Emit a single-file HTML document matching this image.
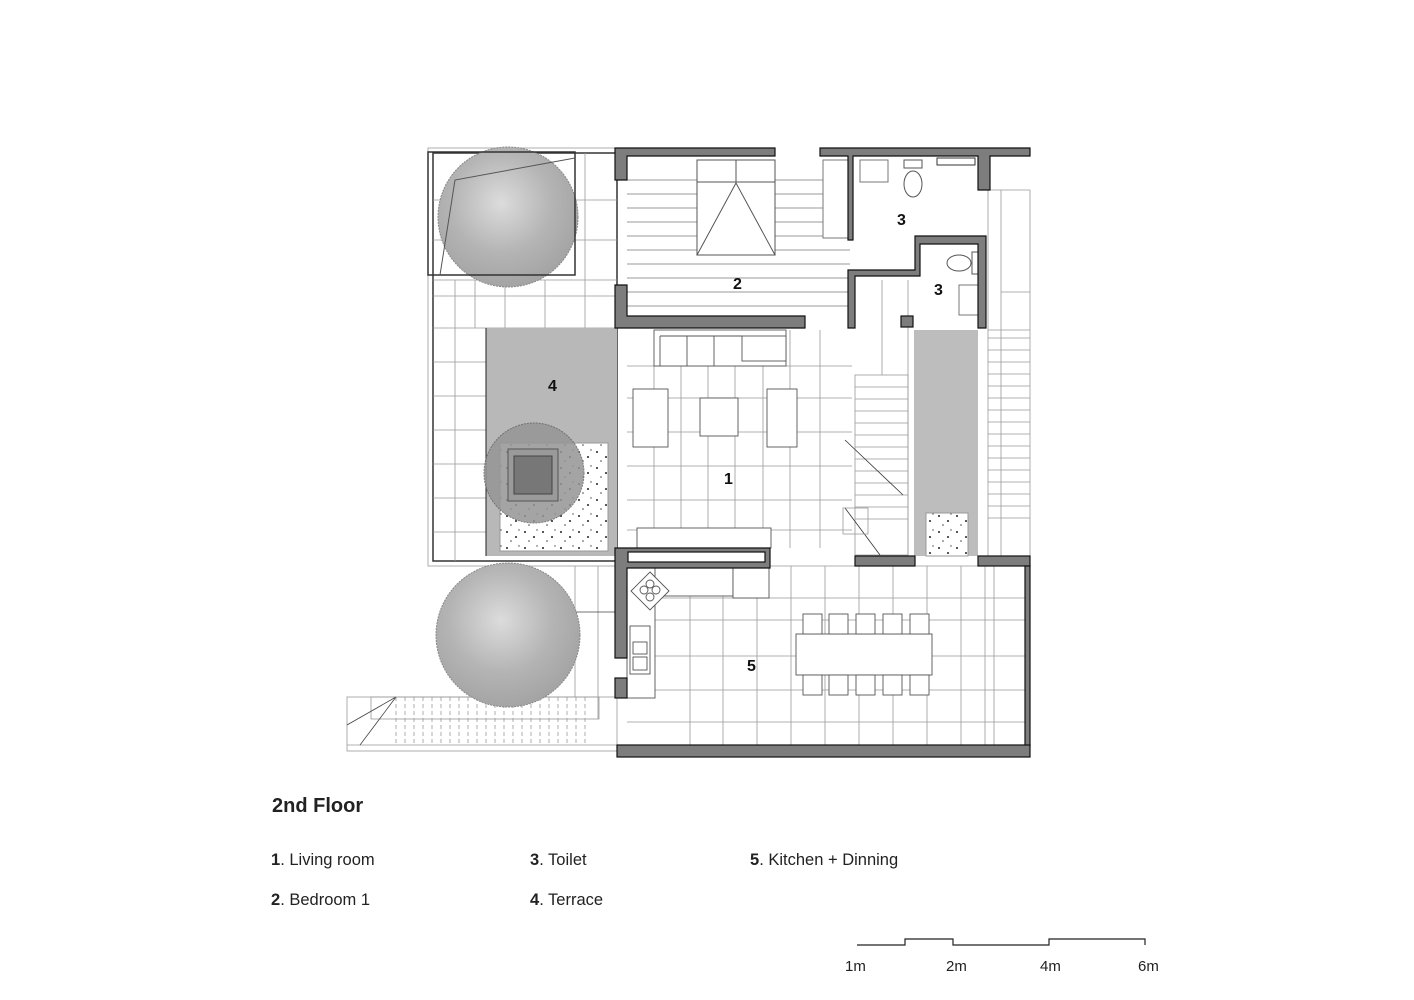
<!DOCTYPE html>
<html><head><meta charset="utf-8"><style>
html,body{margin:0;padding:0;background:#fff}
svg{display:block}
text{font-family:"Liberation Sans",Arial,sans-serif}
</style></head><body>
<svg width="1414" height="1000" viewBox="0 0 1414 1000" xmlns="http://www.w3.org/2000/svg">
<defs>
<radialGradient id="tree" cx="45%" cy="40%" r="60%">
<stop offset="0" stop-color="#dcdcdc"/><stop offset="0.6" stop-color="#b4b4b4"/><stop offset="1" stop-color="#a4a4a4"/>
</radialGradient>
<pattern id="grav" width="18" height="16" patternUnits="userSpaceOnUse">
<rect width="18" height="16" fill="#fff"/>
<circle cx="3" cy="4" r="1" fill="#222"/><circle cx="12" cy="9" r="1" fill="#222"/><circle cx="7" cy="13" r="0.8" fill="#444"/><circle cx="15" cy="2" r="0.7" fill="#444"/>
</pattern>
</defs>
<g stroke="#999" stroke-width="0.8" fill="none">
<rect x="428" y="148" width="189" height="418"/>
<rect x="433" y="153" width="184" height="408" stroke="#333" stroke-width="1.5"/>
<line x1="433" y1="280" x2="617" y2="280"/>
<line x1="433" y1="296" x2="617" y2="296"/>
<line x1="433" y1="328" x2="617" y2="328"/>
<line x1="433" y1="362" x2="486" y2="362"/>
<line x1="433" y1="396" x2="486" y2="396"/>
<line x1="433" y1="430" x2="486" y2="430"/>
<line x1="433" y1="464" x2="486" y2="464"/>
<line x1="433" y1="498" x2="486" y2="498"/>
<line x1="433" y1="532" x2="486" y2="532"/>
<line x1="455" y1="280" x2="455" y2="561"/>
<line x1="475" y1="280" x2="475" y2="328"/>
<line x1="505" y1="280" x2="505" y2="328"/>
<line x1="545" y1="280" x2="545" y2="328"/>
<line x1="585" y1="153" x2="585" y2="328"/>
<line x1="433" y1="200" x2="617" y2="200"/>
<line x1="433" y1="240" x2="617" y2="240"/>
<line x1="627" y1="366" x2="852" y2="366"/>
<line x1="627" y1="398" x2="852" y2="398"/>
<line x1="627" y1="432" x2="852" y2="432"/>
<line x1="627" y1="466" x2="852" y2="466"/>
<line x1="627" y1="500" x2="852" y2="500"/>
<line x1="627" y1="530" x2="852" y2="530"/>
<line x1="654" y1="366" x2="654" y2="548"/>
<line x1="681" y1="366" x2="681" y2="548"/>
<line x1="708" y1="366" x2="708" y2="548"/>
<line x1="735" y1="366" x2="735" y2="548"/>
<line x1="763" y1="366" x2="763" y2="548"/>
<line x1="790" y1="330" x2="790" y2="548"/>
<line x1="820" y1="330" x2="820" y2="548"/>
<line x1="988" y1="190" x2="1030" y2="190"/>
<line x1="1030" y1="190" x2="1030" y2="556"/>
<line x1="988" y1="190" x2="988" y2="556"/>
<line x1="1001" y1="190" x2="1001" y2="556"/>
<line x1="1001" y1="292" x2="1030" y2="292"/>
<line x1="988" y1="330" x2="1030" y2="330"/>
<line x1="988" y1="338" x2="1030" y2="338"/>
<line x1="988" y1="350" x2="1030" y2="350"/>
<line x1="988" y1="362" x2="1030" y2="362"/>
<line x1="988" y1="374" x2="1030" y2="374"/>
<line x1="988" y1="386" x2="1030" y2="386"/>
<line x1="988" y1="398" x2="1030" y2="398"/>
<line x1="988" y1="410" x2="1030" y2="410"/>
<line x1="988" y1="422" x2="1030" y2="422"/>
<line x1="988" y1="434" x2="1030" y2="434"/>
<line x1="988" y1="446" x2="1030" y2="446"/>
<line x1="988" y1="458" x2="1030" y2="458"/>
<line x1="988" y1="470" x2="1030" y2="470"/>
<line x1="988" y1="482" x2="1030" y2="482"/>
<line x1="988" y1="494" x2="1030" y2="494"/>
<line x1="988" y1="506" x2="1030" y2="506"/>
<line x1="988" y1="518" x2="1030" y2="518"/>
<rect x="855" y="375" width="53" height="180"/>
<line x1="855" y1="387" x2="908" y2="387"/>
<line x1="855" y1="399" x2="908" y2="399"/>
<line x1="855" y1="411" x2="908" y2="411"/>
<line x1="855" y1="423" x2="908" y2="423"/>
<line x1="855" y1="435" x2="908" y2="435"/>
<line x1="855" y1="447" x2="908" y2="447"/>
<line x1="855" y1="459" x2="908" y2="459"/>
<line x1="855" y1="471" x2="908" y2="471"/>
<line x1="855" y1="483" x2="908" y2="483"/>
<line x1="855" y1="495" x2="908" y2="495"/>
<line x1="855" y1="507" x2="908" y2="507"/>
<line x1="855" y1="519" x2="908" y2="519"/>
<line x1="882" y1="280" x2="882" y2="375"/>
<line x1="908" y1="280" x2="908" y2="555"/>
<line x1="845" y1="440" x2="903" y2="495" stroke="#333"/>
<line x1="845" y1="508" x2="880" y2="555" stroke="#333"/>
<rect x="843" y="508" width="25" height="26"/>
<line x1="655" y1="598" x2="1026" y2="598"/>
<line x1="655" y1="620" x2="1026" y2="620"/>
<line x1="655" y1="656" x2="1026" y2="656"/>
<line x1="655" y1="690" x2="1026" y2="690"/>
<line x1="627" y1="722" x2="1026" y2="722"/>
<line x1="627" y1="566" x2="1026" y2="566"/>
<line x1="690" y1="596" x2="690" y2="745"/>
<line x1="723" y1="596" x2="723" y2="745"/>
<line x1="757" y1="596" x2="757" y2="745"/>
<line x1="791" y1="566" x2="791" y2="745"/>
<line x1="825" y1="566" x2="825" y2="745"/>
<line x1="859" y1="566" x2="859" y2="745"/>
<line x1="893" y1="566" x2="893" y2="745"/>
<line x1="927" y1="566" x2="927" y2="745"/>
<line x1="961" y1="566" x2="961" y2="745"/>
<line x1="994" y1="566" x2="994" y2="745"/>
<line x1="985" y1="566" x2="985" y2="745"/>
<rect x="347" y="697" width="270" height="54"/>
<line x1="347" y1="745" x2="617" y2="745"/>
<rect x="371" y="697" width="228" height="22"/>
<line x1="347" y1="725" x2="396" y2="697" stroke="#444"/>
<line x1="360" y1="745" x2="396" y2="697" stroke="#444"/>
<line x1="598" y1="566" x2="598" y2="719"/>
<line x1="575" y1="566" x2="575" y2="697"/>
<line x1="575" y1="612" x2="617" y2="612" stroke="#444"/>
</g>
<g stroke="#999" stroke-width="0.8" stroke-dasharray="4,3">
<line x1="396" y1="697" x2="396" y2="745"/><line x1="405" y1="697" x2="405" y2="745"/>
<line x1="414" y1="697" x2="414" y2="745"/><line x1="423" y1="697" x2="423" y2="745"/>
<line x1="432" y1="697" x2="432" y2="745"/><line x1="441" y1="697" x2="441" y2="745"/>
<line x1="450" y1="697" x2="450" y2="745"/><line x1="459" y1="697" x2="459" y2="745"/>
<line x1="468" y1="697" x2="468" y2="745"/><line x1="477" y1="697" x2="477" y2="745"/>
<line x1="486" y1="697" x2="486" y2="745"/><line x1="495" y1="697" x2="495" y2="745"/>
<line x1="504" y1="697" x2="504" y2="745"/><line x1="513" y1="697" x2="513" y2="745"/>
<line x1="522" y1="697" x2="522" y2="745"/><line x1="531" y1="697" x2="531" y2="745"/>
<line x1="540" y1="697" x2="540" y2="745"/><line x1="549" y1="697" x2="549" y2="745"/>
<line x1="558" y1="697" x2="558" y2="745"/><line x1="567" y1="697" x2="567" y2="745"/>
<line x1="576" y1="697" x2="576" y2="745"/><line x1="585" y1="697" x2="585" y2="745"/>
</g>
<rect x="486" y="328" width="131" height="228" fill="#b8b8b8"/>
<line x1="486" y1="328" x2="486" y2="556" stroke="#222" stroke-width="1"/>
<rect x="500" y="443" width="108" height="108" fill="url(#grav)" stroke="#999"/>
<rect x="914" y="330" width="64" height="226" fill="#bdbdbd"/>
<rect x="926" y="513" width="42" height="43" fill="url(#grav)" stroke="#999"/>
<circle cx="508" cy="217" r="70" fill="url(#tree)" stroke="#888" stroke-dasharray="2,1"/>
<rect x="428" y="152" width="147" height="123" fill="none" stroke="#333" stroke-width="1.5"/>
<polyline points="440,275 455,180 575,158" fill="none" stroke="#555"/>
<circle cx="534" cy="473" r="50" fill="#959595" stroke="#666" stroke-dasharray="2,1" opacity="0.85"/>
<rect x="508" y="449" width="50" height="52" fill="#9a9a9a" stroke="#555"/>
<rect x="514" y="456" width="38" height="38" fill="#777" stroke="#444"/>
<circle cx="508" cy="635" r="72" fill="url(#tree)" stroke="#888" stroke-dasharray="2,1"/>
<g stroke="#777" stroke-width="0.8">
<line x1="627" y1="180" x2="850" y2="180"/><line x1="627" y1="194" x2="850" y2="194"/>
<line x1="627" y1="208" x2="850" y2="208"/><line x1="627" y1="222" x2="850" y2="222"/>
<line x1="627" y1="236" x2="850" y2="236"/><line x1="627" y1="250" x2="850" y2="250"/>
<line x1="627" y1="264" x2="850" y2="264"/><line x1="627" y1="278" x2="850" y2="278"/>
<line x1="627" y1="292" x2="850" y2="292"/><line x1="627" y1="306" x2="850" y2="306"/>
</g>
<rect x="697" y="160" width="78" height="95" fill="#fff" stroke="#555"/>
<line x1="697" y1="182" x2="775" y2="182" stroke="#555"/>
<line x1="736" y1="160" x2="736" y2="182" stroke="#555"/>
<polygon points="736,183 697,255 775,255" fill="none" stroke="#555"/>
<rect x="823" y="160" width="25" height="78" fill="#fff" stroke="#777"/>
<rect x="853" y="156" width="123" height="120" fill="#fff"/>
<rect x="913" y="240" width="72" height="78" fill="#fff"/>
<rect x="860" y="160" width="28" height="22" fill="none" stroke="#777"/>
<ellipse cx="913" cy="184" rx="9" ry="13" fill="#fff" stroke="#555"/>
<rect x="904" y="160" width="18" height="8" fill="#fff" stroke="#555"/>
<rect x="937" y="158" width="38" height="7" fill="#fff" stroke="#333"/>
<ellipse cx="959" cy="263" rx="12" ry="8" fill="#fff" stroke="#555"/>
<rect x="972" y="252" width="8" height="22" fill="#fff" stroke="#555"/>
<rect x="959" y="285" width="20" height="30" fill="#fff" stroke="#777"/>
<g fill="#fff" stroke="#555" stroke-width="0.9">
<rect x="654" y="330" width="132" height="36"/>
<line x1="660" y1="336" x2="660" y2="366"/>
<line x1="687" y1="336" x2="687" y2="366"/>
<line x1="714" y1="336" x2="714" y2="366"/>
<rect x="742" y="336" width="44" height="25"/>
<line x1="660" y1="336" x2="742" y2="336"/>
<rect x="633" y="389" width="35" height="58"/>
<rect x="700" y="398" width="38" height="38"/>
<rect x="767" y="389" width="30" height="58"/>
<rect x="637" y="528" width="134" height="20"/>
<rect x="627" y="566" width="106" height="30"/>
<rect x="733" y="566" width="36" height="32"/>
<rect x="627" y="566" width="28" height="132"/>
<polygon points="650,572 669,591 650,610 631,591"/>
<circle cx="644" cy="590" r="4"/><circle cx="656" cy="590" r="4"/><circle cx="650" cy="584" r="4"/><circle cx="650" cy="597" r="4"/>
<rect x="630" y="626" width="20" height="48"/>
<rect x="633" y="642" width="14" height="12"/><rect x="633" y="657" width="14" height="13"/>
<rect x="796" y="634" width="136" height="41"/>
<rect x="803" y="614" width="19" height="20"/><rect x="829" y="614" width="19" height="20"/>
<rect x="856" y="614" width="19" height="20"/><rect x="883" y="614" width="19" height="20"/>
<rect x="910" y="614" width="19" height="20"/>
<rect x="803" y="675" width="19" height="20"/><rect x="829" y="675" width="19" height="20"/>
<rect x="856" y="675" width="19" height="20"/><rect x="883" y="675" width="19" height="20"/>
<rect x="910" y="675" width="19" height="20"/>
</g>
<g fill="#7d7d7d" stroke="#111" stroke-width="1.2">
<path d="M615,148 H775 V156 H627 V180 H615 Z"/>
<path d="M615,285 H627 V316 H805 V328 H615 Z"/>
<path d="M820,148 H1030 V156 H990 V190 H978 V156 H853 V240 H848 V156 H820 Z"/>
<path d="M848,270 H915 V236 H986 V328 H978 V244 H920 V276 H855 V328 H848 Z"/>
<rect x="901" y="316" width="12" height="11"/>
<path d="M615,548 H770 V568 H627 V658 H615 Z"/>
<rect x="628" y="552" width="137" height="10" fill="#fff"/>
<rect x="615" y="678" width="12" height="20"/>
<rect x="855" y="556" width="60" height="10"/>
<rect x="978" y="556" width="52" height="10"/>
<rect x="1025" y="566" width="5" height="180"/>
<rect x="617" y="745" width="413" height="12"/>
</g>
<g font-weight="bold" font-size="16" fill="#111">
<text x="733" y="289">2</text>
<text x="897" y="225">3</text>
<text x="934" y="295">3</text>
<text x="548" y="391">4</text>
<text x="724" y="484">1</text>
<text x="747" y="671">5</text>
</g>
<text x="272" y="812" font-size="20" font-weight="bold" fill="#222">2nd Floor</text>
<g font-size="16.5" fill="#222">
<text x="271" y="865"><tspan font-weight="bold">1</tspan>. Living room</text>
<text x="271" y="905"><tspan font-weight="bold">2</tspan>. Bedroom 1</text>
<text x="530" y="865"><tspan font-weight="bold">3</tspan>. Toilet</text>
<text x="530" y="905"><tspan font-weight="bold">4</tspan>. Terrace</text>
<text x="750" y="865"><tspan font-weight="bold">5</tspan>. Kitchen + Dinning</text>
</g>
<polyline points="857,945 905,945 905,939 953,939 953,945 1049,945 1049,939 1145,939 1145,945" fill="none" stroke="#222" stroke-width="1.2"/>
<g font-size="15" fill="#222">
<text x="845" y="971">1m</text><text x="946" y="971">2m</text>
<text x="1040" y="971">4m</text><text x="1138" y="971">6m</text>
</g>
</svg>
</body></html>
